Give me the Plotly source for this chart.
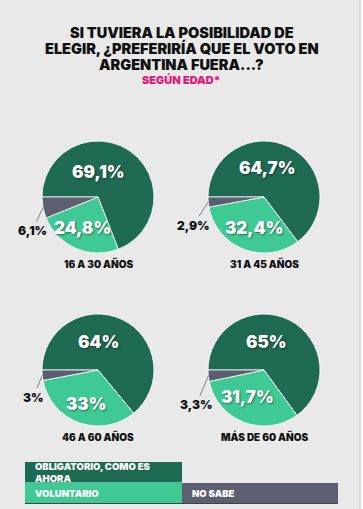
import math
import plotly.graph_objects as go

# ---------------- data ----------------
categories = ["OBLIGATORIO, COMO ES AHORA", "VOLUNTARIO", "NO SABE"]
groups = ["16 A 30 AÑOS", "31 A 45 AÑOS", "46 A 60 AÑOS", "MÁS DE 60 AÑOS"]
obligatorio = [69.1, 64.7, 64.0, 65.0]
voluntario = [24.8, 32.4, 33.0, 31.7]
no_sabe = [6.1, 2.9, 3.0, 3.3]
title_lines = ["SI TUVIERA LA POSIBILIDAD DE",
               "ELEGIR, ¿PREFERIRÍA QUE EL VOTO EN",
               "ARGENTINA FUERA...?"]
subtitle = "SEGÚN EDAD*"

# ---------------- style / layout ----------------
W, H = 363, 509
colors = ["#1e6a53", "#3fca95", "#5b5f70"]
BG = "#e9e9e9"
FONT = "Inter"
WT = 900
centers = [(98, 197), (264, 197), (98, 370), (264, 370)]  # px, layout
R = 56
# label offsets (px) relative to pie center for dark and light labels
dark_off = [(0, -25), (3, -29), (0, -28), (2, -28)]
light_off = [(-16, 31), (-10, 31), (-12, 34), (-17, 27)]
gray_txt_off = [(-11, 23), (-15, 23), (-9, 22), (-12, 29)]


def px(x):
    return x / W


def py(y):
    return 1 - y / H


def fmt(v):
    s = ("%.1f" % v).rstrip("0").rstrip(".")
    return s.replace(".", ",") + "%"


def ann(**kw):
    d = dict(xref="paper", yref="paper", showarrow=False, xanchor="center", yanchor="middle")
    d.update(kw)
    return d


fig = go.Figure()
annotations = []
shadow = "1px 1px 2px rgba(0,0,0,0.45)"
for i, g in enumerate(groups):
    cx, cy = centers[i]
    vals = [obligatorio[i], voluntario[i], no_sabe[i]]
    fig.add_trace(go.Pie(
        labels=categories, values=vals, sort=False, direction="clockwise",
        rotation=270, textinfo="none", hoverinfo="label+percent",
        marker=dict(colors=colors, line=dict(color="rgba(255,255,255,0.8)", width=1)),
        domain=dict(x=[px(cx - R), px(cx + R)], y=[py(cy + R), py(cy - R)]),
        showlegend=False, name=g,
    ))
    dx, dy = dark_off[i]
    annotations.append(ann(x=px(cx + dx), y=py(cy + dy), text=fmt(vals[0]),
                           font=dict(family=FONT, size=17, color="white", weight=WT, shadow=shadow)))
    lx, ly = light_off[i]
    annotations.append(ann(x=px(cx + lx), y=py(cy + ly), text=fmt(vals[1]),
                           font=dict(family=FONT, size=17, color="white", weight=WT, shadow=shadow)))
    # gray label with leader line
    a = math.radians(270 + (vals[0] + vals[1] + vals[2] / 2) * 3.6)
    tx = cx + R * math.sin(a)
    ty = cy - R * math.cos(a)
    gx, gy = gray_txt_off[i]
    annotations.append(ann(x=px(tx), y=py(ty), ax=gx, ay=gy, text=fmt(vals[2]), showarrow=True,
                           arrowhead=0, arrowwidth=0.8, arrowcolor="#666", standoff=0,
                           font=dict(family=FONT, size=12, color="#111", weight=WT)))
    annotations.append(ann(x=px(cx), y=py(cy + 66), text=g,
                           font=dict(family=FONT, size=10, color="#111", weight=WT)))

for j, t in enumerate(title_lines):
    annotations.append(ann(x=0.5, y=py(32 + 16 * j), text=t,
                           font=dict(family=FONT, size=14.5, color="#111", weight=WT)))
annotations.append(ann(x=0.5, y=py(80), text=subtitle,
                       font=dict(family=FONT, size=11, color="#e5187c", weight=WT)))

shapes = [
    dict(type="rect", xref="paper", yref="paper", x0=px(25), x1=px(182), y0=py(482.5), y1=py(462),
         fillcolor=colors[0], line=dict(width=0)),
    dict(type="rect", xref="paper", yref="paper", x0=px(25), x1=px(182), y0=py(503), y1=py(482.5),
         fillcolor=colors[1], line=dict(width=0)),
    dict(type="rect", xref="paper", yref="paper", x0=px(182), x1=px(338), y0=py(503), y1=py(483),
         fillcolor=colors[2], line=dict(width=0)),
    dict(type="line", xref="paper", yref="paper", x0=px(25), x1=px(338), y0=py(503.5), y1=py(503.5),
         line=dict(color="#444", width=1)),
    dict(type="rect", xref="paper", yref="paper", x0=px(360), x1=1, y0=0, y1=1,
         fillcolor="#f7f7f7", line=dict(width=0), layer="below"),
    dict(type="line", xref="paper", yref="paper", x0=px(360), x1=px(360), y0=0, y1=1,
         line=dict(color="#c8c8c8", width=1)),
]
leg_font = dict(family=FONT, size=9.5, color="white", weight=WT)
annotations.append(ann(x=px(33), y=py(472.5), text="OBLIGATORIO, COMO ES<br>AHORA",
                       xanchor="left", align="left", font=leg_font))
annotations.append(ann(x=px(33), y=py(493), text=categories[1], xanchor="left", font=leg_font))
annotations.append(ann(x=px(190), y=py(493), text=categories[2], xanchor="left", font=leg_font))

fig.update_layout(
    width=W, height=H, margin=dict(l=0, r=0, t=0, b=0),
    paper_bgcolor=BG, plot_bgcolor=BG,
    annotations=annotations, shapes=shapes,
)
fig.write_html("out.html", config={"displayModeBar": False},
               post_script="document.body.style.margin='0';document.body.style.overflow='hidden';")
